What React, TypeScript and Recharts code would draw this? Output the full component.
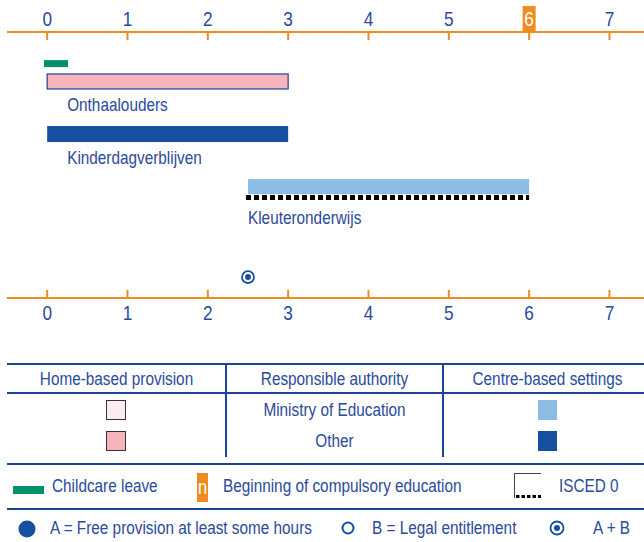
import React from "react";
import { BarChart, Bar, XAxis, YAxis } from "recharts";

// ages shown on both axes
const AGE_TICKS = [0, 1, 2, 3, 4, 5, 6, 7];
const COMPULSORY_AGE = 6;

// one row per provision line, top to bottom
const rowIds = ["leave", "home", "centre", "preschool", "entitlement"];
const rowLabels = ["", "Onthaalouders", "Kinderdagverblijven", "Kleuteronderwijs", ""];
const rowLanes = [0.66, 1, 2, 3, 4.72];
const fromAge = [-0.04, 0, 0, 2.5, 2.5];
const toAge = [0.26, 3, 3, 6, 2.5];

const TABLE_HEADERS = ["Home-based provision", "Responsible authority", "Centre-based settings"];
const AUTHORITIES = ["Ministry of Education", "Other"];

const data = rowIds.map((id, i) => ({
  id,
  label: rowLabels[i],
  lane: rowLanes[i],
  range: [fromAge[i], toAge[i]],
}));

const ORANGE = "#ee8c1f";
const TEXT = "#2a4a9b";
const LINE = "#1d4296";
const PINK = "#f8b4bc";
const PINK_LIGHT = "#fcecf0";
const LIGHT_BLUE = "#8bbde4";
const DARK_BLUE = "#164f9f";
const GREEN = "#00906a";
const FONT = "'Liberation Sans', Arial, sans-serif";
const NARROW = 0.82; // the source uses a condensed Helvetica

function NarrowText({ x, y, size, fill, anchor = "start", children }: any) {
  return (
    <text
      transform={`translate(${x} ${y}) scale(${NARROW} 1)`}
      textAnchor={anchor}
      fontSize={size}
      fontFamily={FONT}
      fill={fill}
    >
      {children}
    </text>
  );
}

function TopTick({ x, y, payload }: any) {
  const v = payload.value;
  const isCompulsory = v === COMPULSORY_AGE;
  return (
    <g>
      <line x1={x} x2={x} y1={y} y2={y + 8} stroke={ORANGE} strokeWidth={2} />
      {isCompulsory && <rect x={x - 6.5} y={y - 26} width={13} height={26} fill={ORANGE} />}
      <NarrowText x={x} y={y - 6} size={21} anchor="middle" fill={isCompulsory ? "#fff" : TEXT}>
        {v}
      </NarrowText>
    </g>
  );
}

function BottomTick({ x, y, payload }: any) {
  return (
    <g>
      <line x1={x} x2={x} y1={y - 8} y2={y} stroke={ORANGE} strokeWidth={2} />
      <NarrowText x={x} y={y + 22} size={21} anchor="middle" fill={TEXT}>
        {payload.value}
      </NarrowText>
    </g>
  );
}

function RowShape(props: any) {
  const { x, y, width, height, payload } = props;
  const cy = y + height / 2;
  const label = (dx: number, dy: number) => (
    <NarrowText x={x + dx} y={cy + dy} size={18.7} fill={TEXT}>
      {payload.label}
    </NarrowText>
  );
  switch (payload.id) {
    case "leave":
      return <rect x={x} y={cy - 3.5} width={width} height={7} fill={GREEN} />;
    case "home":
      return (
        <g>
          <rect x={x} y={cy - 7.5} width={width} height={15} fill={PINK} stroke={LINE} strokeWidth={1.2} />
          {label(20, 30)}
        </g>
      );
    case "centre":
      return (
        <g>
          <rect x={x} y={cy - 8} width={width} height={16} fill={DARK_BLUE} />
          {label(20, 30)}
        </g>
      );
    case "preschool":
      return (
        <g>
          <rect x={x} y={cy - 7.5} width={width} height={15} fill={LIGHT_BLUE} />
          <line x1={x - 2} x2={x + width} y1={cy + 11} y2={cy + 11} stroke="#000" strokeWidth={5} strokeDasharray="5 3" />
          {label(0, 37)}
        </g>
      );
    default:
      return (
        <g>
          <circle cx={x} cy={cy} r={6} fill="#fff" stroke={DARK_BLUE} strokeWidth={1.8} />
          <circle cx={x} cy={cy} r={3} fill={DARK_BLUE} />
        </g>
      );
  }
}

const abs = (left: number, top: number, extra: React.CSSProperties = {}): React.CSSProperties => ({
  position: "absolute",
  left,
  top,
  ...extra,
});

const textStyle: React.CSSProperties = {
  fontFamily: FONT,
  fontSize: 18.7,
  color: TEXT,
  whiteSpace: "nowrap",
  transform: `scaleX(${NARROW})`,
  transformOrigin: "left center",
};

function Legend() {
  const colLeft = [7, 226, 443];
  const colWidth = [219, 217, 209];
  const rowCenter = [410, 441];
  const centred = (left: number, width: number, top: number, height: number): React.CSSProperties =>
    abs(left, top, { ...textStyle, width, height, lineHeight: `${height}px`, textAlign: "center", transformOrigin: "center center" });
  return (
    <>
      <div style={abs(7, 363, { width: 640, height: 2, background: LINE })} />
      <div style={abs(7, 392, { width: 640, height: 2, background: LINE })} />
      <div style={abs(7, 463, { width: 640, height: 2, background: LINE })} />
      <div style={abs(7, 508, { width: 640, height: 2, background: LINE })} />
      <div style={abs(225, 365, { width: 2, height: 92, background: LINE })} />
      <div style={abs(442, 365, { width: 2, height: 92, background: LINE })} />
      {TABLE_HEADERS.map((h, i) => (
        <div key={h} style={centred(colLeft[i], colWidth[i], 365, 27)}>
          {h}
        </div>
      ))}
      {AUTHORITIES.map((a, i) => (
        <React.Fragment key={a}>
          <div style={abs(106, rowCenter[i] - 10, { width: 18, height: 18, background: i === 0 ? PINK_LIGHT : PINK, border: "1px solid #333" })} />
          <div style={centred(colLeft[1], colWidth[1], rowCenter[i] - 14, 28)}>{a}</div>
          <div style={abs(538, rowCenter[i] - 10, { width: 19, height: 20, background: i === 0 ? LIGHT_BLUE : DARK_BLUE })} />
        </React.Fragment>
      ))}

      <div style={abs(13, 486, { width: 31, height: 8, background: GREEN })} />
      <div style={abs(52, 472, { ...textStyle, lineHeight: "28px" })}>Childcare leave</div>
      <div style={abs(197, 473, { width: 11, height: 29, background: ORANGE })} />
      <div style={abs(197, 473, { ...textStyle, color: "#fff", fontSize: 20, width: 11, lineHeight: "29px", textAlign: "center", transformOrigin: "center center" })}>
        n
      </div>
      <div style={abs(223, 472, { ...textStyle, lineHeight: "28px" })}>Beginning of compulsory education</div>
      <svg style={abs(514, 473)} width={28} height={26}>
        <line x1={0} x2={27} y1={0.5} y2={0.5} stroke="#444" strokeWidth={1} />
        <line x1={0.5} x2={0.5} y1={0} y2={25} stroke="#444" strokeWidth={1} />
        <line x1={2} x2={27} y1={23.5} y2={23.5} stroke="#000" strokeWidth={3} strokeDasharray="3.5 2" />
      </svg>
      <div style={abs(559, 472, { ...textStyle, lineHeight: "28px" })}>ISCED 0</div>

      <svg style={abs(0, 512)} width={644} height={30}>
        <circle cx={27} cy={17} r={8.5} fill={DARK_BLUE} />
        <circle cx={348} cy={16} r={5.5} fill="#fff" stroke={DARK_BLUE} strokeWidth={2} />
        <circle cx={557} cy={16} r={6.5} fill="#fff" stroke={DARK_BLUE} strokeWidth={1.8} />
        <circle cx={557} cy={16} r={3} fill={DARK_BLUE} />
      </svg>
      <div style={abs(50, 514, { ...textStyle, lineHeight: "28px" })}>A = Free provision at least some hours</div>
      <div style={abs(372, 514, { ...textStyle, lineHeight: "28px" })}>B = Legal entitlement</div>
      <div style={abs(593, 514, { ...textStyle, lineHeight: "28px" })}>A + B</div>
    </>
  );
}

export default function App() {
  return (
    <div style={{ position: "absolute", left: 0, top: 0, width: 644, height: 542, overflow: "hidden", background: "#fff" }}>
      <BarChart width={644} height={330} data={data} layout="vertical" margin={{ top: 0, right: 0, bottom: 0, left: 7 }}>
        <XAxis
          xAxisId="top"
          orientation="top"
          type="number"
          domain={[-0.5, 7.43]}
          allowDataOverflow
          ticks={AGE_TICKS}
          interval={0}
          height={32}
          tickSize={0}
          tickMargin={0}
          tickLine={false}
          axisLine={{ stroke: ORANGE, strokeWidth: 2 }}
          tick={<TopTick />}
        />
        <XAxis
          xAxisId="bottom"
          orientation="bottom"
          type="number"
          domain={[-0.5, 7.43]}
          allowDataOverflow
          ticks={AGE_TICKS}
          interval={0}
          height={32}
          tickSize={0}
          tickMargin={0}
          tickLine={false}
          axisLine={{ stroke: ORANGE, strokeWidth: 2 }}
          tick={<BottomTick />}
        />
        <YAxis type="number" dataKey="lane" domain={[0.06, 5.12]} hide width={0} />
        <Bar xAxisId="top" dataKey="range" barSize={16} shape={<RowShape />} isAnimationActive={false} />
      </BarChart>
      <Legend />
    </div>
  );
}
